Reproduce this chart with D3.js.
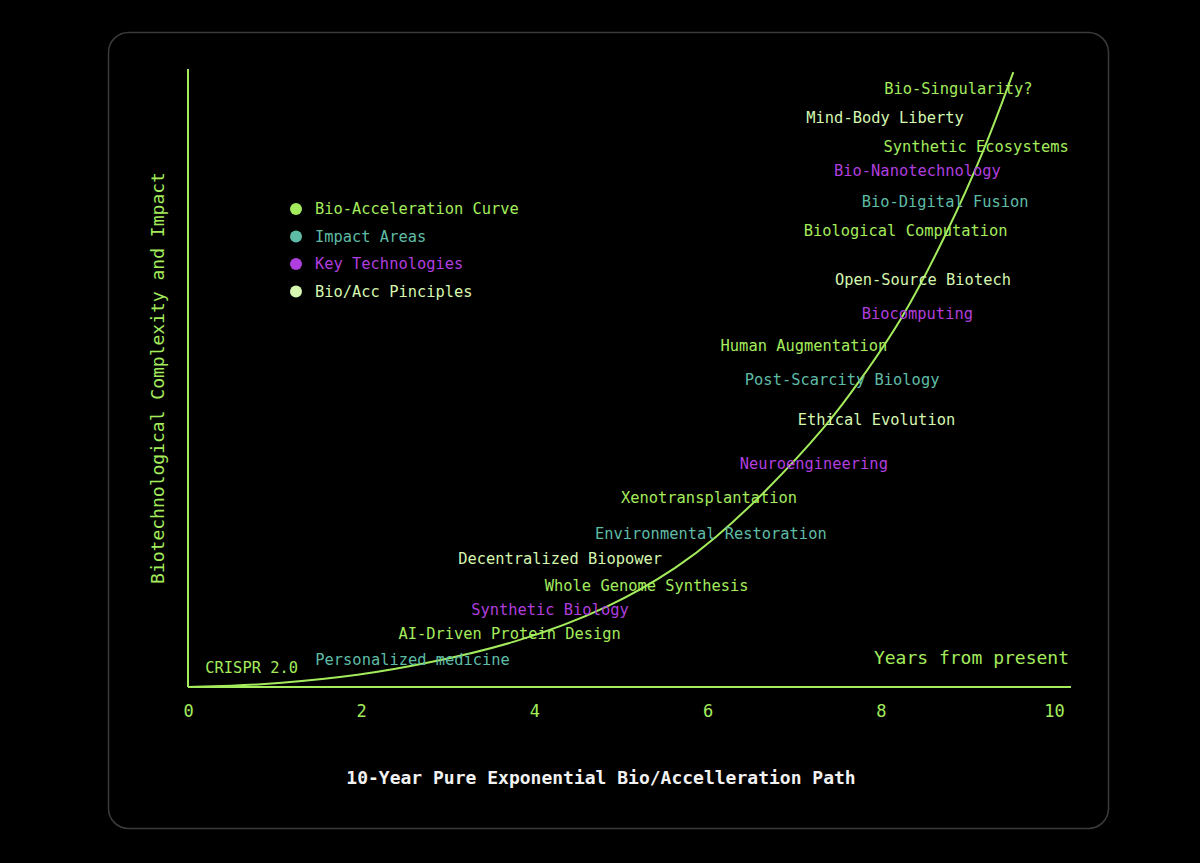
<!DOCTYPE html>
<html>
<head>
<meta charset="utf-8">
<script src="https://cdn.jsdelivr.net/npm/d3@7"></script>
<style>
  html, body { margin: 0; padding: 0; background: #000; }
  svg { display: block; }
  text { font-family: "DejaVu Sans Mono", "Liberation Mono", monospace; }
</style>
</head>
<body>
<svg id="chart" width="1200" height="863"></svg>
<script>
// ---- data ----
const curveYears  = [0, 0.5, 1, 2, 2.75, 3.75, 4.9, 5.7, 6.05, 6.65, 7.4, 7.75, 8.25, 8.75, 9.2, 9.53];
const curveValues = [0, 0.2, 0.5, 1.9, 3.8, 6.9, 12.9, 19.8, 23.6, 31.2, 42.6, 49.4, 59.4, 73.0, 86.9, 99.5];

const labelTexts = [
  "CRISPR 2.0", "Personalized medicine", "AI-Driven Protein Design", "Synthetic Biology",
  "Whole Genome Synthesis", "Decentralized Biopower", "Environmental Restoration",
  "Xenotransplantation", "Neuroengineering", "Ethical Evolution", "Post-Scarcity Biology",
  "Human Augmentation", "Biocomputing", "Open-Source Biotech", "Biological Computation",
  "Bio-Digital Fusion", "Bio-Nanotechnology", "Synthetic Ecosystems", "Mind-Body Liberty",
  "Bio-Singularity?"
];
const labelYears  = [0.20, 1.47, 2.43, 3.27, 4.12, 3.12, 4.70, 5.00, 6.37, 7.04, 6.43, 6.15, 7.78, 7.47, 7.11, 7.78, 7.46, 8.03, 7.14, 8.04];
const labelValues = [3.1, 4.4, 8.6, 12.6, 16.4, 20.7, 24.9, 30.6, 36.2, 43.2, 49.8, 55.2, 60.5, 65.9, 73.9, 78.5, 83.5, 87.5, 92.1, 96.8];
const labelGroups = ["curve", "impact", "curve", "tech", "curve", "principle", "impact", "curve", "tech", "principle",
                     "impact", "curve", "tech", "principle", "curve", "impact", "tech", "curve", "principle", "curve"];

const legendKeys   = ["curve", "impact", "tech", "principle"];
const legendLabels = ["Bio-Acceleration Curve", "Impact Areas", "Key Technologies", "Bio/Acc Pinciples"];

const xTicks = [0, 2, 4, 6, 8, 10];

const titleText  = "10-Year Pure Exponential Bio/Accelleration Path";
const xAxisText  = "Years from present";
const yAxisText  = "Biotechnological Complexity and Impact";

// ---- styles ----
const colors = { curve: "#a4ec5c", impact: "#5ebca6", tech: "#b03edf", principle: "#d6f7b0" };
const axisColor = "#a4ec5c";

const svg = d3.select("#chart");
svg.append("rect").attr("width", 1200).attr("height", 863).attr("fill", "#000");

// card
svg.append("rect")
  .attr("x", 108.5).attr("y", 32.5).attr("width", 1000).attr("height", 796)
  .attr("rx", 20).attr("ry", 20)
  .attr("fill", "#000").attr("stroke", "#3b3b3b").attr("stroke-width", 1.5);

const x = d3.scaleLinear().domain([0, 10]).range([188, 1054]);
const y = d3.scaleLinear().domain([0, 100]).range([687, 69]);

// axes
const xAxis = d3.axisBottom(x).tickValues(xTicks).tickSize(0).tickPadding(18).tickFormat(d3.format("d"));
const gx = svg.append("g").attr("transform", "translate(0,687)").call(xAxis);
gx.select(".domain").remove();
gx.selectAll("text").attr("fill", axisColor).attr("font-size", 17)
  .style("font-family", "'DejaVu Sans Mono', monospace");

svg.append("line").attr("x1", 188).attr("x2", 1071).attr("y1", 687).attr("y2", 687)
  .attr("stroke", axisColor).attr("stroke-width", 2);
svg.append("line").attr("x1", 188).attr("x2", 188).attr("y1", y(100)).attr("y2", 687)
  .attr("stroke", axisColor).attr("stroke-width", 2);

// curve
const pts = curveYears.map((d, i) => [d, curveValues[i]]);
svg.append("path")
  .datum(pts)
  .attr("fill", "none")
  .attr("stroke", colors.curve)
  .attr("stroke-width", 2)
  .attr("d", d3.line().x(d => x(d[0])).y(d => y(d[1])).curve(d3.curveBasis));

// labels
const labels = labelTexts.map((t, i) => ({ t, x: labelYears[i], v: labelValues[i], g: labelGroups[i] }));
svg.append("g").selectAll("text").data(labels).join("text")
  .attr("x", d => x(d.x))
  .attr("y", d => y(d.v))
  .attr("dy", "0.35em")
  .attr("font-size", 15.4)
  .attr("fill", d => colors[d.g])
  .text(d => d.t);

// legend
const lg = svg.append("g");
legendKeys.forEach((k, i) => {
  const cy = 209 + i * 27.5;
  lg.append("circle").attr("cx", 296).attr("cy", cy).attr("r", 6).attr("fill", colors[k]);
  lg.append("text").attr("x", 315).attr("y", cy).attr("dy", "0.35em")
    .attr("font-size", 15.4).attr("fill", colors[k]).text(legendLabels[i]);
});

// axis titles
svg.append("text").attr("x", 1069).attr("y", 658).attr("dy", "0.35em")
  .attr("text-anchor", "end").attr("font-size", 18).attr("fill", axisColor).text(xAxisText);

svg.append("text")
  .attr("transform", "translate(158,378) rotate(-90)")
  .attr("text-anchor", "middle").attr("dy", "0.35em")
  .attr("font-size", 18).attr("fill", axisColor).text(yAxisText);

// title
svg.append("text").attr("x", 601).attr("y", 778).attr("dy", "0.35em")
  .attr("text-anchor", "middle").attr("font-size", 18).attr("font-weight", "bold")
  .attr("fill", "#f2f2f2").text(titleText);
</script>
</body>
</html>
